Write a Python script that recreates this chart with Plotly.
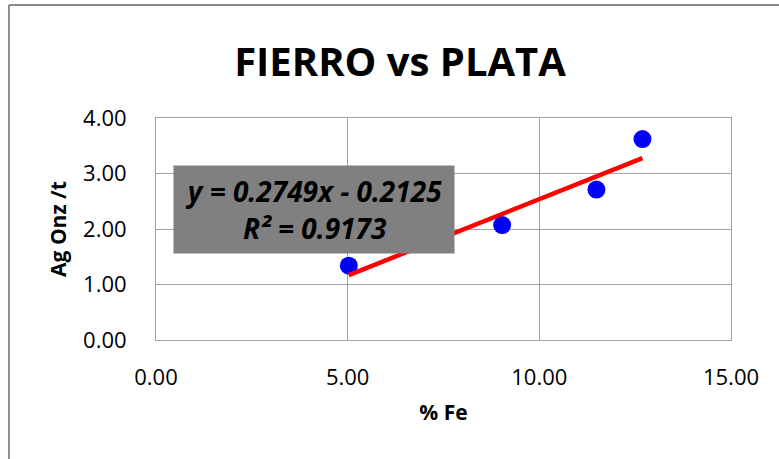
import plotly.graph_objects as go

# Data
fe_pct = [5.03, 9.03, 11.49, 12.69]
ag_onz_t = [1.34, 2.07, 2.71, 3.62]

# Trendline as stated on the chart
slope = 0.2749
intercept = -0.2125
eq_line1 = "y = 0.2749x - 0.2125"
eq_line2 = "R² = 0.9173"

x_ticks = [0, 5, 10, 15]
x_ticklabels = ["0.00", "5.00", "10.00", "15.00"]
y_ticks = [0, 1, 2, 3, 4]
y_ticklabels = ["0.00", "1.00", "2.00", "3.00", "4.00"]

FONT = "Open Sans"
GRID = "#a3a3a3"

trend_x = [min(fe_pct), max(fe_pct)]
trend_y = [slope * v + intercept for v in trend_x]

fig = go.Figure()
fig.add_trace(go.Scatter(
    x=fe_pct, y=ag_onz_t, mode="markers",
    marker=dict(color="#0000ff", size=18, line=dict(width=0)),
    showlegend=False, hoverinfo="x+y",
))
fig.add_trace(go.Scatter(
    x=trend_x, y=trend_y, mode="lines",
    line=dict(color="#ff0000", width=4.5),
    showlegend=False, hoverinfo="skip",
))

fig.add_annotation(
    x=4.12, y=2.35, xref="x", yref="y",
    xanchor="center", yanchor="middle",
    text=f"<b><i>{eq_line1}</i></b><br><b><i>{eq_line2}</i></b>",
    showarrow=False, bgcolor="#808080",
    width=280, height=87, borderpad=0,
    font=dict(family=FONT, size=28, color="#000000"),
    align="center",
)

# outer chart border (left and top visible)
fig.add_shape(type="line", xref="paper", yref="paper",
              x0=-0.2557, x1=1.2, y0=1.509, y1=1.509,
              line=dict(color="#8c8c8c", width=2))
fig.add_shape(type="line", xref="paper", yref="paper",
              x0=-0.2557, x1=-0.2557, y0=1.509, y1=-0.6,
              line=dict(color="#8c8c8c", width=2))

fig.update_layout(
    width=779, height=459,
    margin=dict(l=156, r=48, t=118, b=119),
    paper_bgcolor="white", plot_bgcolor="white",
    title=dict(text="<b>FIERRO vs PLATA</b>", x=0.5135, xanchor="center",
               y=1 - 62 / 459, yanchor="middle",
               font=dict(family=FONT, size=40, color="#000000")),
    font=dict(family=FONT, color="#000000"),
)
fig.update_xaxes(
    range=[0, 15], tickvals=x_ticks, ticktext=x_ticklabels,
    showgrid=True, gridcolor=GRID, gridwidth=1,
    showline=True, linecolor=GRID, linewidth=1, mirror=True,
    zeroline=False, ticks="", ticklabelstandoff=18,
    tickfont=dict(family=FONT, size=22, color="#000000"),
    title=dict(text="<b>% Fe</b>", standoff=14,
               font=dict(family=FONT, size=21, color="#000000")),
)
fig.update_yaxes(
    range=[0, 4], tickvals=y_ticks, ticktext=y_ticklabels,
    showgrid=True, gridcolor=GRID, gridwidth=1,
    showline=True, linecolor=GRID, linewidth=1, mirror=True,
    zeroline=False, ticks="", ticklabelstandoff=24,
    tickfont=dict(family=FONT, size=22, color="#000000"),
    title=dict(text="<b>Ag Onz /t</b>", standoff=10,
               font=dict(family=FONT, size=21, color="#000000")),
)

fig.write_html("out.html",
               config={"displayModeBar": False},
               post_script="document.body.style.margin='0';document.body.style.overflow='hidden';")
